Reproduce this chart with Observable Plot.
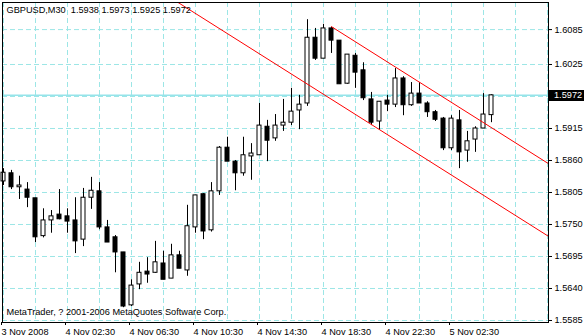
<!DOCTYPE html>
<html>
<head>
<meta charset="utf-8">
<script src="https://cdn.jsdelivr.net/npm/d3@7"></script>
<script src="https://cdn.jsdelivr.net/npm/@observablehq/plot@0.6"></script>
<style>
  html, body { margin: 0; padding: 0; background: white; }
  #chart svg { display: block; }
</style>
</head>
<body>
<div id="chart"></div>
<script>
// ---- data (GBPUSD, M30) ----
const symbolTitle = "GBPUSD,M30";
const opens  = [1.5824,1.5838,1.5814,1.5810,1.5795,1.5730,1.5757,1.5767,1.5764,1.5757,1.5724,1.5796,1.5807,1.5745,1.5728,1.5702,1.5611,1.5647,1.5669,1.5667,1.5683,1.5657,1.5697,1.5671,1.5745,1.5802,1.5740,1.5807,1.5882,1.5858,1.5838,1.5867,1.5869,1.5918,1.5898,1.5920,1.5925,1.5946,1.5958,1.6071,1.6035,1.6087,1.6066,1.5992,1.6040,1.6015,1.5965,1.5927,1.5963,1.5956,1.6001,1.5955,1.5975,1.5958,1.5943,1.5932,1.5881,1.5929,1.5877,1.5896,1.5915,1.5938];
const highs  = [1.5846,1.5843,1.5833,1.5822,1.5795,1.5777,1.5774,1.5810,1.5777,1.5796,1.5812,1.5831,1.5822,1.5757,1.5731,1.5702,1.5655,1.5685,1.5693,1.5721,1.5704,1.5716,1.5704,1.5783,1.5800,1.5803,1.5822,1.5884,1.5900,1.5860,1.5900,1.5889,1.5958,1.5929,1.5939,1.5965,1.5984,1.5972,1.6102,1.6087,1.6094,1.6089,1.6066,1.6042,1.6044,1.6028,1.5977,1.5961,1.5972,1.6018,1.6004,1.5994,1.5994,1.5961,1.5946,1.5934,1.5937,1.5946,1.5910,1.5918,1.5975,1.5973];
const lows   = [1.5817,1.5810,1.5793,1.5779,1.5719,1.5727,1.5735,1.5758,1.5735,1.5700,1.5712,1.5776,1.5741,1.5719,1.5667,1.5607,1.5609,1.5638,1.5649,1.5666,1.5655,1.5657,1.5674,1.5661,1.5735,1.5724,1.5737,1.5800,1.5858,1.5808,1.5833,1.5826,1.5869,1.5858,1.5893,1.5910,1.5920,1.5913,1.5953,1.6032,1.6035,1.6044,1.5991,1.5991,1.5984,1.5963,1.5920,1.5912,1.5944,1.5951,1.5937,1.5953,1.5958,1.5934,1.5927,1.5877,1.5877,1.5846,1.5857,1.5874,1.5915,1.5925];
const closes = [1.5839,1.5814,1.5817,1.5796,1.5728,1.5757,1.5764,1.5759,1.5755,1.5721,1.5796,1.5808,1.5745,1.5719,1.5702,1.5609,1.5645,1.5667,1.5664,1.5685,1.5655,1.5697,1.5674,1.5747,1.5800,1.5738,1.5807,1.5882,1.5858,1.5838,1.5869,1.5872,1.5920,1.5894,1.5920,1.5925,1.5944,1.5956,1.6071,1.6035,1.6087,1.6066,1.5991,1.6042,1.6011,1.5967,1.5925,1.5961,1.5956,1.6001,1.5955,1.5975,1.5958,1.5943,1.5930,1.5881,1.5932,1.5874,1.5893,1.5915,1.5939,1.5972];

// x-axis labels every 8 bars (4 hours)
const xTickBars = [0, 8, 16, 24, 32, 40, 48, 56];
const xTickLabels = ["3 Nov 2008","4 Nov 02:30","4 Nov 06:30","4 Nov 10:30","4 Nov 14:30","4 Nov 18:30","4 Nov 22:30","5 Nov 02:30"];
// price scale labels
const yTickValues = [1.5585, 1.5640, 1.5695, 1.5750, 1.5805, 1.5860, 1.5915, 1.5970, 1.6025, 1.6085];
const yTickShown  = [1.5585, 1.5640, 1.5695, 1.5750, 1.5805, 1.5860, 1.5915, 1.6025, 1.6085];
const lastPrice = 1.5972;

// equidistant channel (bar index, price)
const channelUpperBars   = [41, 68.2];
const channelUpperPrices = [1.6090, 1.58539];
const channelLowerBars   = [20, 68.2];
const channelLowerPrices = [1.61474, 1.5729];

const copyright = "MetaTrader, ? 2001-2006 MetaQuotes Software Corp.";

// ---- build ----
const candles = opens.map((o, i) => ({i, open: o, high: highs[i], low: lows[i], close: closes[i]}));
const upper = channelUpperBars.map((b, k) => ({b, p: channelUpperPrices[k]}));
const lower = channelLowerBars.map((b, k) => ({b, p: channelLowerPrices[k]}));
const gridBars = d3.range(0, 69, 4);
const gridColor = "#9ce6e6";
const titleText = `${symbolTitle}  ${opens[61].toFixed(4)} ${highs[61].toFixed(4)} ${lows[61].toFixed(4)} ${closes[61].toFixed(4)}`;
const font = "'Liberation Sans', Arial, sans-serif";

const chart = Plot.plot({
  width: 584,
  height: 336,
  marginLeft: 2,
  marginRight: 36,
  marginTop: 2,
  marginBottom: 14,
  style: {fontFamily: font, fontSize: "9.2px", background: "white", color: "black", overflow: "visible"},
  x: {domain: [-0.125, 68.125], axis: null},
  y: {domain: [1.558156, 1.613156], axis: null},
  marks: [
    Plot.ruleX(gridBars, {stroke: gridColor, strokeDasharray: "5,3"}),
    Plot.ruleY(yTickValues, {stroke: gridColor, strokeDasharray: "5,3"}),
    Plot.ruleY([lastPrice], {stroke: "#96e4ea", strokeWidth: 1.5}),
    Plot.ruleX(candles, {x: "i", y1: "low", y2: "high", stroke: "black"}),
    Plot.rect(candles, {
      x1: d => d.i - 0.25, x2: d => d.i + 0.25,
      y1: "open", y2: "close",
      fill: d => d.close >= d.open ? "white" : "black",
      stroke: "black"
    }),
    Plot.line(upper, {x: "b", y: "p", stroke: "red", strokeWidth: 1, clip: true}),
    Plot.line(lower, {x: "b", y: "p", stroke: "red", strokeWidth: 1, clip: true}),
    Plot.frame({stroke: "black"}),
    Plot.axisX(xTickBars, {
      anchor: "bottom", tickSize: 3, tickPadding: 3,
      tickFormat: d => xTickLabels[xTickBars.indexOf(d)],
      textAnchor: "start", dx: -2, fill: "black"
    }),
    Plot.axisY(yTickShown, {
      anchor: "right", tickSize: 3, tickPadding: 3,
      tickFormat: d => d.toFixed(4), fill: "black"
    }),
    Plot.text([titleText], {frameAnchor: "top-left", dx: 4, dy: 4, lineAnchor: "top", text: d => d, fill: "black"}),
    Plot.text([copyright], {frameAnchor: "bottom-left", dx: 4, dy: -8, lineAnchor: "bottom", text: d => d, fill: "black"})
  ]
});

// current price marker on the price scale
const sy = chart.scale("y");
const py = sy.apply(lastPrice);
const svg = d3.select(chart);
const g = svg.append("g");
g.append("rect").attr("x", 549).attr("y", Math.round(py) - 5).attr("width", 35).attr("height", 11).attr("fill", "black");
g.append("text").attr("x", 554).attr("y", py).attr("dy", "0.32em")
  .attr("text-anchor", "start")
  .attr("fill", "white").attr("font-family", font).attr("font-size", 9.2)
  .text(lastPrice.toFixed(4));

document.getElementById("chart").appendChild(chart);
</script>
</body>
</html>
